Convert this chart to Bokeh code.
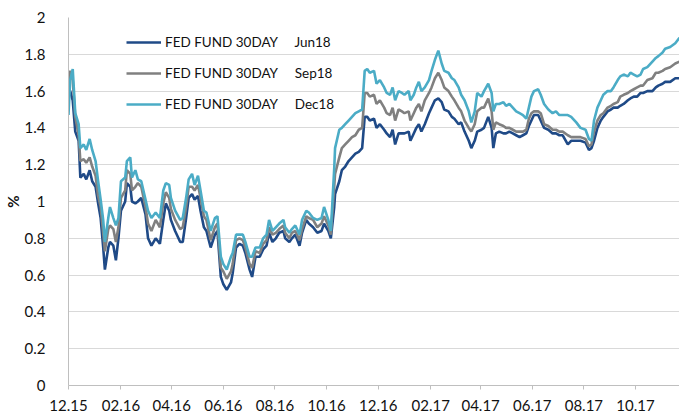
from datetime import datetime
from bokeh.plotting import figure
from bokeh.models import Range1d, FixedTicker, DatetimeTickFormatter, CustomJSTickFormatter
from bokeh.embed import file_html
from bokeh.resources import INLINE

dates = [
    "2015-12-01", "2015-12-03", "2015-12-06", "2015-12-09", "2015-12-13", "2015-12-15", "2015-12-19",
    "2015-12-22", "2015-12-26", "2015-12-29", "2016-01-02", "2016-01-05", "2016-01-08", "2016-01-11",
    "2016-01-13", "2016-01-17", "2016-01-19", "2016-01-23", "2016-01-26", "2016-01-29", "2016-02-01",
    "2016-02-06", "2016-02-08", "2016-02-12", "2016-02-14", "2016-02-18", "2016-02-21", "2016-02-25",
    "2016-03-01", "2016-03-04", "2016-03-08", "2016-03-13", "2016-03-18", "2016-03-22", "2016-03-25",
    "2016-03-29", "2016-03-31", "2016-04-05", "2016-04-11", "2016-04-14", "2016-04-18", "2016-04-21",
    "2016-04-25", "2016-04-28", "2016-05-02", "2016-05-05", "2016-05-09", "2016-05-12", "2016-05-17",
    "2016-05-22", "2016-05-25", "2016-05-29", "2016-06-01", "2016-06-05", "2016-06-10", "2016-06-12",
    "2016-06-16", "2016-06-20", "2016-06-24", "2016-06-27", "2016-07-02", "2016-07-05", "2016-07-09",
    "2016-07-14", "2016-07-18", "2016-07-22", "2016-07-25", "2016-07-29", "2016-08-02", "2016-08-06",
    "2016-08-11", "2016-08-13", "2016-08-18", "2016-08-21", "2016-08-25", "2016-08-30", "2016-09-02",
    "2016-09-07", "2016-09-10", "2016-09-15", "2016-09-20", "2016-09-25", "2016-09-28", "2016-10-03",
    "2016-10-06", "2016-10-10", "2016-10-11", "2016-10-16", "2016-10-19", "2016-10-23", "2016-10-27",
    "2016-10-31", "2016-11-04", "2016-11-08", "2016-11-12", "2016-11-15", "2016-11-18", "2016-11-21",
    "2016-11-26", "2016-11-29", "2016-12-03", "2016-12-08", "2016-12-11", "2016-12-15", "2016-12-18",
    "2016-12-21", "2016-12-25", "2016-12-29", "2017-01-01", "2017-01-06", "2017-01-08", "2017-01-12",
    "2017-01-15", "2017-01-18", "2017-01-21", "2017-01-25", "2017-01-30", "2017-02-02", "2017-02-06",
    "2017-02-10", "2017-02-14", "2017-02-17", "2017-02-22", "2017-02-26", "2017-03-01", "2017-03-06",
    "2017-03-09", "2017-03-13", "2017-03-18", "2017-03-21", "2017-03-25", "2017-03-28", "2017-04-02",
    "2017-04-05", "2017-04-10", "2017-04-14", "2017-04-16", "2017-04-19", "2017-04-23", "2017-04-28",
    "2017-05-01", "2017-05-05", "2017-05-09", "2017-05-13", "2017-05-17", "2017-05-21", "2017-05-25",
    "2017-05-28", "2017-05-31", "2017-06-03", "2017-06-08", "2017-06-11", "2017-06-15", "2017-06-20",
    "2017-06-25", "2017-06-29", "2017-07-03", "2017-07-07", "2017-07-13", "2017-07-17", "2017-07-23",
    "2017-07-28", "2017-08-03", "2017-08-07", "2017-08-10", "2017-08-13", "2017-08-17", "2017-08-21",
    "2017-08-24", "2017-08-29", "2017-09-02", "2017-09-05", "2017-09-10", "2017-09-13", "2017-09-17",
    "2017-09-22", "2017-09-25", "2017-09-29", "2017-10-03", "2017-10-07", "2017-10-10", "2017-10-15",
    "2017-10-21", "2017-10-25", "2017-10-28", "2017-11-02", "2017-11-05", "2017-11-11", "2017-11-17",
    "2017-11-22",
]

jun18 = [
    1.62, 1.60, 1.55, 1.38, 1.33, 1.13, 1.15, 1.12, 1.17, 1.11, 1.08, 0.99, 0.91, 0.75,
    0.63, 0.75, 0.78, 0.76, 0.68, 0.80, 0.95, 1.00, 1.10, 1.08, 1.00, 0.99, 1.00, 1.02,
    0.93, 0.80, 0.76, 0.80, 0.77, 0.90, 0.99, 0.95, 0.90, 0.84, 0.78, 0.78, 0.91, 1.02,
    1.04, 1.01, 1.03, 0.95, 0.86, 0.84, 0.75, 0.82, 0.84, 0.59, 0.55, 0.52, 0.56, 0.61,
    0.75, 0.77, 0.76, 0.72, 0.63, 0.59, 0.70, 0.70, 0.74, 0.76, 0.83, 0.78, 0.80, 0.83,
    0.84, 0.80, 0.78, 0.80, 0.82, 0.76, 0.83, 0.90, 0.88, 0.86, 0.83, 0.84, 0.88, 0.84,
    0.80, 0.97, 1.04, 1.11, 1.17, 1.19, 1.22, 1.24, 1.26, 1.27, 1.29, 1.46, 1.46, 1.44,
    1.45, 1.40, 1.42, 1.39, 1.37, 1.35, 1.39, 1.31, 1.37, 1.37, 1.37, 1.38, 1.33, 1.37,
    1.40, 1.42, 1.38, 1.42, 1.48, 1.51, 1.55, 1.56, 1.54, 1.50, 1.49, 1.46, 1.45, 1.42,
    1.43, 1.38, 1.33, 1.29, 1.33, 1.38, 1.39, 1.40, 1.46, 1.40, 1.29, 1.37, 1.38, 1.37,
    1.37, 1.38, 1.37, 1.36, 1.35, 1.36, 1.37, 1.41, 1.44, 1.47, 1.47, 1.44, 1.40, 1.39,
    1.37, 1.37, 1.36, 1.36, 1.31, 1.33, 1.33, 1.33, 1.32, 1.28, 1.29, 1.33, 1.40, 1.44,
    1.46, 1.49, 1.50, 1.51, 1.51, 1.52, 1.53, 1.55, 1.56, 1.57, 1.57, 1.59, 1.59, 1.60,
    1.60, 1.62, 1.63, 1.64, 1.65, 1.65, 1.67, 1.67,
]

sep18 = [
    1.66, 1.71, 1.66, 1.46, 1.36, 1.22, 1.23, 1.21, 1.24, 1.19, 1.14, 1.03, 0.97, 0.83,
    0.73, 0.85, 0.87, 0.85, 0.78, 0.86, 1.02, 1.06, 1.17, 1.15, 1.06, 1.08, 1.10, 1.08,
    0.97, 0.88, 0.84, 0.90, 0.86, 0.99, 1.05, 1.02, 0.96, 0.90, 0.85, 0.86, 0.97, 1.08,
    1.08, 1.06, 1.09, 1.02, 0.92, 0.90, 0.79, 0.86, 0.88, 0.64, 0.62, 0.58, 0.62, 0.66,
    0.79, 0.80, 0.79, 0.75, 0.66, 0.64, 0.73, 0.72, 0.77, 0.79, 0.86, 0.82, 0.83, 0.85,
    0.87, 0.83, 0.80, 0.83, 0.84, 0.79, 0.85, 0.92, 0.91, 0.90, 0.86, 0.88, 0.92, 0.87,
    0.82, 1.08, 1.15, 1.24, 1.29, 1.31, 1.33, 1.35, 1.36, 1.39, 1.40, 1.59, 1.59, 1.57,
    1.58, 1.53, 1.55, 1.51, 1.48, 1.47, 1.51, 1.44, 1.50, 1.49, 1.48, 1.49, 1.44, 1.48,
    1.51, 1.53, 1.49, 1.55, 1.59, 1.62, 1.67, 1.70, 1.66, 1.62, 1.60, 1.57, 1.55, 1.51,
    1.49, 1.44, 1.40, 1.38, 1.42, 1.49, 1.51, 1.51, 1.56, 1.49, 1.39, 1.43, 1.42, 1.41,
    1.40, 1.40, 1.39, 1.38, 1.38, 1.38, 1.39, 1.45, 1.48, 1.49, 1.49, 1.48, 1.42, 1.41,
    1.39, 1.39, 1.38, 1.38, 1.36, 1.35, 1.35, 1.35, 1.34, 1.30, 1.31, 1.38, 1.44, 1.47,
    1.48, 1.51, 1.52, 1.53, 1.54, 1.57, 1.58, 1.59, 1.60, 1.61, 1.62, 1.63, 1.63, 1.66,
    1.67, 1.70, 1.70, 1.71, 1.72, 1.73, 1.75, 1.76,
]

dec18 = [
    1.47, 1.66, 1.72, 1.48, 1.42, 1.29, 1.31, 1.28, 1.34, 1.28, 1.22, 1.11, 1.01, 0.90,
    0.78, 0.91, 0.97, 0.91, 0.87, 0.91, 1.11, 1.13, 1.22, 1.24, 1.13, 1.17, 1.12, 1.11,
    1.01, 0.95, 0.91, 0.94, 0.91, 1.06, 1.10, 1.09, 1.02, 0.95, 0.90, 0.91, 1.02, 1.12,
    1.15, 1.09, 1.14, 1.06, 0.95, 0.94, 0.84, 0.91, 0.92, 0.70, 0.66, 0.63, 0.70, 0.72,
    0.82, 0.82, 0.82, 0.78, 0.70, 0.70, 0.75, 0.75, 0.80, 0.82, 0.90, 0.84, 0.86, 0.88,
    0.90, 0.86, 0.83, 0.85, 0.87, 0.82, 0.90, 0.95, 0.94, 0.91, 0.90, 0.91, 0.97, 0.90,
    0.84, 1.18, 1.29, 1.39, 1.40, 1.42, 1.44, 1.46, 1.48, 1.49, 1.50, 1.71, 1.72, 1.70,
    1.71, 1.64, 1.66, 1.62, 1.59, 1.58, 1.62, 1.55, 1.60, 1.59, 1.58, 1.60, 1.55, 1.58,
    1.62, 1.65, 1.60, 1.62, 1.66, 1.71, 1.77, 1.82, 1.75, 1.71, 1.70, 1.67, 1.66, 1.62,
    1.58, 1.55, 1.49, 1.43, 1.49, 1.59, 1.57, 1.60, 1.64, 1.59, 1.49, 1.53, 1.53, 1.54,
    1.52, 1.53, 1.51, 1.49, 1.48, 1.47, 1.45, 1.51, 1.57, 1.60, 1.61, 1.58, 1.53, 1.50,
    1.48, 1.49, 1.47, 1.47, 1.47, 1.46, 1.43, 1.40, 1.39, 1.34, 1.33, 1.44, 1.51, 1.55,
    1.58, 1.60, 1.60, 1.62, 1.66, 1.68, 1.69, 1.68, 1.70, 1.69, 1.68, 1.69, 1.72, 1.73,
    1.76, 1.78, 1.79, 1.81, 1.83, 1.84, 1.86, 1.89,
]

gap = "\u00a0" * 5
series_names = ["FED FUND 30DAY" + gap + "Jun18",
                "FED FUND 30DAY" + gap + "Sep18",
                "FED FUND 30DAY" + gap + "Dec18"]
series_colors = ["#1f4a87", "#808080", "#4bacc6"]

x_tick_dates = ["2015-12-01", "2016-02-01", "2016-04-01", "2016-06-01", "2016-08-01", "2016-10-01",
                "2016-12-01", "2017-02-01", "2017-04-01", "2017-06-01", "2017-08-01", "2017-10-01"]
y_ticks = [0, 0.2, 0.4, 0.6, 0.8, 1.0, 1.2, 1.4, 1.6, 1.8, 2.0]

x = [datetime.strptime(d, "%Y-%m-%d") for d in dates]
x_start = datetime(2015, 12, 1)
x_end = datetime(2017, 11, 22)


def ms(d):
    return (datetime.strptime(d, "%Y-%m-%d") - datetime(1970, 1, 1)).total_seconds() * 1000.0


p = figure(width=679, height=418, x_axis_type="datetime", output_backend="svg",
           toolbar_location=None, x_range=Range1d(x_start, x_end), y_range=Range1d(0, 2),
           min_border_left=65, min_border_right=0, min_border_top=17, min_border_bottom=33)
p.outline_line_color = None
p.background_fill_color = "white"

for vals, name, col in zip([jun18, sep18, dec18], series_names, series_colors):
    p.line(x, vals, line_color=col, line_width=2.6, legend_label=name)

xt = FixedTicker(ticks=[ms(d) for d in x_tick_dates])
p.xaxis.ticker = xt
fmt = "%m.%y"
p.xaxis.formatter = DatetimeTickFormatter(years=fmt, months=fmt, days=fmt, hours=fmt,
                                          minutes=fmt, seconds=fmt, milliseconds=fmt,
                                          microseconds=fmt, minsec=fmt, hourmin=fmt)
p.xgrid.visible = False
p.xaxis.axis_line_color = "#bfbfbf"
p.xaxis.major_tick_line_color = "#bfbfbf"
p.xaxis.major_tick_out = 4
p.xaxis.major_tick_in = 0
p.xaxis.minor_tick_line_color = None
p.xaxis.major_label_standoff = 10
p.xaxis.major_label_text_font = "Lato"
p.xaxis.major_label_text_font_size = "15px"
p.xaxis.major_label_text_color = "#111111"

yt = FixedTicker(ticks=y_ticks)
p.yaxis.ticker = yt
p.ygrid.ticker = yt
p.yaxis.formatter = CustomJSTickFormatter(code="return tick.toFixed(1).replace(/\\.0$/, '');")
p.ygrid.grid_line_color = "#d9d9d9"
p.ygrid.grid_line_width = 1
p.yaxis.axis_line_color = "#bfbfbf"
p.yaxis.major_tick_line_color = None
p.yaxis.minor_tick_line_color = None
p.yaxis.major_label_standoff = 17
p.yaxis.major_label_text_font = "Lato"
p.yaxis.major_label_text_font_size = "15px"
p.yaxis.major_label_text_color = "#111111"
p.yaxis.axis_label = "%"
p.yaxis.axis_label_text_font = "Lato"
p.yaxis.axis_label_text_font_size = "15px"
p.yaxis.axis_label_text_font_style = "bold"
p.yaxis.axis_label_text_color = "#111111"
p.yaxis.axis_label_standoff = 0

lg = p.legend[0]
lg.location = (58, 271)
lg.glyph_width = 35
lg.glyph_height = 20
lg.label_height = 20
lg.label_standoff = 4
lg.spacing = 11
lg.padding = 0
lg.margin = 0
lg.border_line_alpha = 0
lg.background_fill_alpha = 0
lg.label_text_font = "Lato"
lg.label_text_font_size = "13.5px"
lg.label_text_color = "#111111"

open("out.html", "w").write(file_html(p, INLINE))
